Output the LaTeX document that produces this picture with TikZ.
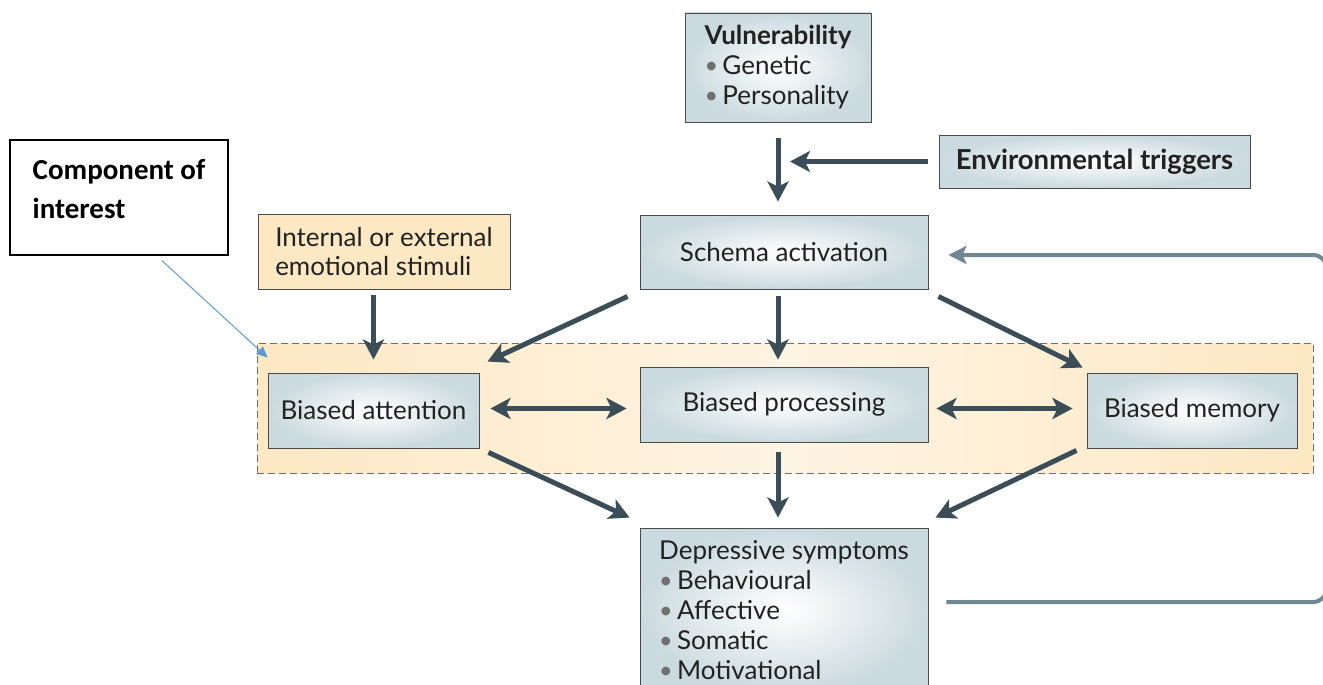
\documentclass[tikz,border=0pt]{standalone}
\usepackage{fontspec}
\setmainfont{Lato}
\newfontfamily\calib{Carlito}
\usetikzlibrary{arrows.meta,calc}
\definecolor{boxblue}{HTML}{CBDADF}
\definecolor{boxedge}{HTML}{4A4A4A}
\definecolor{arrowc}{HTML}{3B4D57}
\definecolor{fbc}{HTML}{6F8793}
\definecolor{orangefill}{HTML}{FDE8C4}
\definecolor{orangelight}{HTML}{FEF4E3}
\definecolor{txt}{HTML}{222222}
\definecolor{bulletc}{HTML}{707070}
\definecolor{blueptr}{HTML}{5B9BD5}
\newcommand{\bul}{{\color{bulletc}\raisebox{0.1ex}{\scalebox{0.9}{•}}}\,}
\tikzset{
  sbox/.style={draw=boxedge, line width=0.9pt, inner color=white, outer color=boxblue,
    rectangle, text=txt, font=\fontsize{26}{30}\selectfont, inner sep=0pt},
  obox/.style={draw=boxedge, line width=0.9pt, fill=orangefill,
    rectangle, text=txt, font=\fontsize{26}{29}\selectfont, inner sep=0pt},
  arr/.style={draw=arrowc, line width=5pt, -{Stealth[length=20pt,width=21pt,inset=5pt]}},
  darr/.style={draw=arrowc, line width=5pt, {Stealth[length=20pt,width=21pt,inset=5pt]}-{Stealth[length=20pt,width=21pt,inset=5pt]}},
}
\begin{document}
\begin{tikzpicture}[x=1pt,y=-1pt]
\clip (0,0) rectangle (1323,685);
\fill[white] (0,0) rectangle (1323,685);

% highlighted region
\node[draw=boxedge!80, dashed, dash pattern=on 7pt off 4pt, line width=0.9pt,
  left color=orangefill, right color=orangefill, middle color=orangelight,
  minimum width=1056pt, minimum height=130pt, inner sep=0pt] (region) at (785,408) {};

% boxes
\node[sbox, minimum width=186pt, minimum height=109pt, align=left] (vul) at (778,67.5)
  {\textbf{Vulnerability}\\\bul Genetic\\\bul Personality};
\node[sbox, minimum width=311pt, minimum height=53pt, font=\fontsize{27.5}{30}\selectfont\bfseries] (env) at (1094.5,161.5)
  {Environmental triggers};
\node[sbox, minimum width=288pt, minimum height=74pt] (schema) at (784,252) {Schema activation};
\node[obox, minimum width=252pt, minimum height=75pt, align=left] (internal) at (384,251.5)
  {Internal or external\\emotional stimuli};
\node[draw=black, line width=1.3pt, fill=white, minimum width=218pt, minimum height=115pt,
  align=left, font=\calib\fontsize{29}{39}\selectfont\bfseries, inner sep=0pt] (comp) at (119,197.5)
  {Component of\\interest\\[-22pt]\mbox{}};
\node[sbox, minimum width=211pt, minimum height=75pt] (ba) at (373.5,410.5) {Biased attention};
\node[sbox, minimum width=288pt, minimum height=75pt] (bp) at (784,404.5) {Biased processing};
\node[sbox, minimum width=210pt, minimum height=75pt] (bm) at (1192,410.5) {Biased memory};
\node[sbox, minimum width=288pt, minimum height=164pt, align=left] (dep) at (784,610)
  {Depressive symptoms\\\bul Behavioural\\\bul Affective\\\bul Somatic\\\bul Motivational};

% connectors
\draw[arr] ([yshift=-16pt]vul.south) -- ([xshift=-6pt,yshift=13pt]schema.north);
\draw[arr] ([xshift=-11pt]env.west) -- ([xshift=12pt]vul.south |- env.west);
\draw[arr] ([yshift=-6pt]ba.north |- internal.south) -- ([yshift=13pt]ba.north);
\draw[arr] ([xshift=-12pt,yshift=-7pt]schema.south west) -- ([xshift=8pt,yshift=11pt]ba.north east);
\draw[arr] ([xshift=-6pt,yshift=-7pt]schema.south) -- ([xshift=-6pt,yshift=7pt]bp.north);
\draw[arr] ([xshift=10pt,yshift=-7pt]schema.south east) -- ([xshift=-4pt,yshift=5pt]bm.north west);
\draw[darr] ([xshift=11pt,yshift=2pt]ba.east) -- ([xshift=-13pt,yshift=2pt]ba.east -| bp.west);
\draw[darr] ([xshift=8pt,yshift=2pt]bp.east |- bm.west) -- ([xshift=-14pt,yshift=2pt]bm.west);
\draw[arr] ([xshift=9pt,yshift=-4pt]ba.south east) -- ([xshift=-10pt,yshift=10pt]dep.north west);
\draw[arr] ([xshift=-6pt,yshift=-10pt]bp.south) -- ([xshift=-6pt,yshift=10pt]dep.north);
\draw[arr] ([xshift=-10pt,yshift=-2pt]bm.south west) -- ([xshift=7pt,yshift=10pt]dep.north east);

% feedback loop
\coordinate (fbr) at (1327,0);
\draw[draw=fbc, line width=4pt, rounded corners=14pt, -{Stealth[length=18pt,width=18pt,inset=4pt]}]
  ([xshift=18pt,yshift=8pt]dep.east) -- ([yshift=8pt]dep.east -| fbr) -- ([yshift=-3pt]schema.east -| fbr) -- ([xshift=20pt,yshift=-3pt]schema.east);

% pointer
\draw[draw=blueptr, line width=1pt, -{Triangle[length=11pt,width=10pt]}]
  ([xshift=43pt,yshift=-5pt]comp.south) -- ([xshift=11pt,yshift=-15pt]region.north west);
\end{tikzpicture}
\end{document}
